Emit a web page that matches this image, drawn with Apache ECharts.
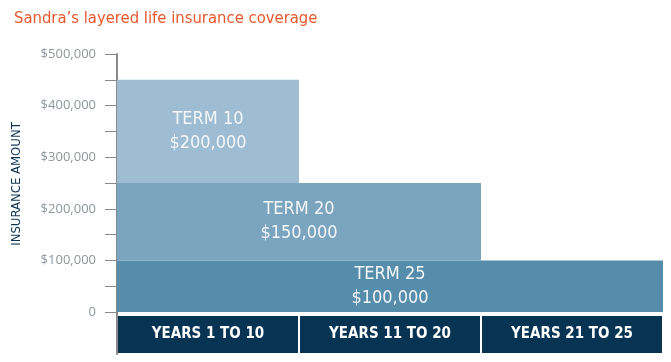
<!DOCTYPE html>
<html>
<head>
<meta charset="utf-8">
<script src="https://cdn.jsdelivr.net/npm/echarts@6/dist/echarts.min.js"></script>
<style>html,body{margin:0;padding:0;background:#fff}#c{width:671px;height:362px}</style>
</head>
<body>
<div id="c"></div>
<script>
var titleText = 'Sandra\u2019s layered life insurance coverage';
var yAxisTitle = 'INSURANCE AMOUNT';
var categories = ['YEARS 1 TO 10', 'YEARS 11 TO 20', 'YEARS 21 TO 25'];
var term25 = [100000, 100000, 100000];
var term20 = [150000, 150000, '-'];
var term10 = [200000, '-', '-'];
var seriesNames = ['TERM 25', 'TERM 20', 'TERM 10'];
var tickValues = [0, 50000, 100000, 150000, 200000, 250000, 300000, 350000, 400000, 450000, 500000];
var labelValues = [0, 100000, 200000, 300000, 400000, 500000];

var NARROW = "'Liberation Sans Narrow', 'DejaVu Sans Condensed', sans-serif";
function money(v) { return '$' + v.toLocaleString('en-US'); }
function barLabel(show, offset) {
  return {
    show: show, position: 'inside', offset: offset || [0, 0],
    color: '#f3f7fa', fontSize: 18, lineHeight: 24, fontFamily: NARROW,
    formatter: function (p) { return p.seriesName + '\n' + money(p.value); }
  };
}
function mkData(arr, labelIdx, offset) {
  return arr.map(function (v, i) {
    return { value: v, label: barLabel(i === labelIdx, offset) };
  });
}

var chart = echarts.init(document.getElementById('c'), null, { renderer: 'canvas' });
chart.setOption({
  animation: false,
  title: {
    text: titleText, left: 9, top: 5,
    textStyle: { color: '#e8582b', fontSize: 16.5, fontWeight: 'normal', fontFamily: NARROW }
  },
  graphic: [{
    type: 'text', x: 10, y: 184, rotation: Math.PI / 2,
    style: { text: yAxisTitle, fill: '#0b3454', fontSize: 13, fontFamily: NARROW, align: 'center', verticalAlign: 'top' }
  }],
  grid: { left: 117, right: 8, top: 54, bottom: 8, containLabel: false, outerBoundsMode: 'none' },
  xAxis: {
    type: 'category', data: categories,
    axisLine: { show: false },
    axisTick: { show: false },
    axisLabel: {
      margin: -38, interval: 0,
      formatter: function (v) { return '{b|' + v + '}'; },
      rich: {
        b: {
          backgroundColor: '#083454', width: 180, height: 37, lineHeight: 37,
          align: 'center', color: '#ffffff', fontSize: 15, fontWeight: 'bold', fontFamily: NARROW
        }
      }
    }
  },
  yAxis: {
    type: 'value', min: -81400, max: 500000,
    splitLine: { show: false },
    axisLine: { show: true, lineStyle: { color: '#8a8a8a', width: 2 } },
    axisTick: { show: true, customValues: tickValues, length: 12, lineStyle: { color: '#8a8a8a', width: 1 } },
    axisLabel: {
      customValues: labelValues, margin: 21, color: '#8f959b', fontSize: 13, fontFamily: "'Open Sans', sans-serif",
      formatter: function (v) { return v === 0 ? '0' : money(v); }
    }
  },
  series: [
    { name: seriesNames[0], type: 'bar', stack: 'a', barCategoryGap: '0%', barWidth: '100%',
      itemStyle: { color: '#568daa' }, data: mkData(term25, 1) },
    { name: seriesNames[1], type: 'bar', stack: 'a', barCategoryGap: '0%', barWidth: '100%',
      itemStyle: { color: '#7ba4bf' }, data: mkData(term20, 1, [-91, 0]) },
    { name: seriesNames[2], type: 'bar', stack: 'a', barCategoryGap: '0%', barWidth: '100%',
      itemStyle: { color: '#9ebcd2' }, data: mkData(term10, 0) }
  ]
});
</script>
</body>
</html>
